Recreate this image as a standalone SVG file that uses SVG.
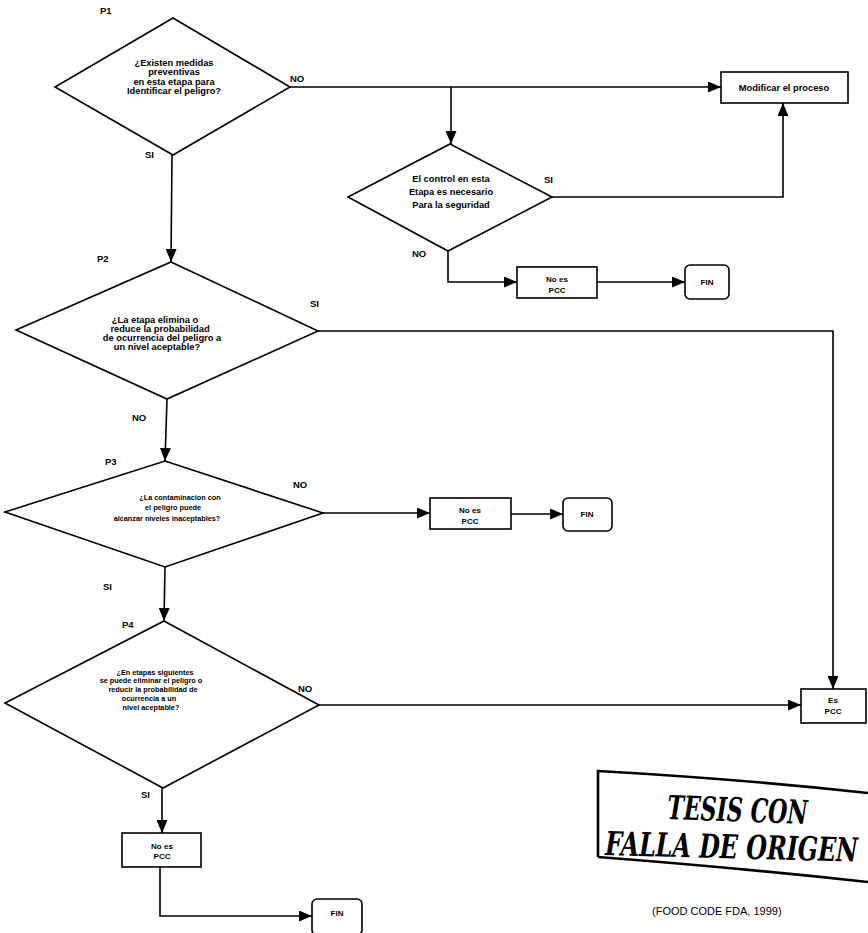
<svg xmlns="http://www.w3.org/2000/svg" width="868" height="933" viewBox="0 0 868 933">
  <defs>
    <marker id="arrow" markerUnits="userSpaceOnUse" markerWidth="13" markerHeight="11" refX="13" refY="5.5" orient="auto">
      <path d="M0,0 L13,5.5 L0,11 z" fill="#000"/>
    </marker>
    <style>
      .shape { fill: #fff; stroke: #000; stroke-width: 1.6; }
      .edge { fill: none; stroke: #000; stroke-width: 1.6; marker-end: url(#arrow); }
      text { font-family: "Liberation Sans", "DejaVu Sans", sans-serif; font-weight: bold; fill: #000; }
      .q { font-size: 9.3px; text-anchor: middle; }
      .qs { font-size: 7.3px; text-anchor: middle; }
      .box { font-size: 8px; text-anchor: middle; }
      .lbl { font-size: 9.5px; }
      .stamp { font-family: "DejaVu Serif", "Liberation Serif", serif; font-style: italic; font-weight: bold; font-size: 33px; }
      .src { font-size: 11px; font-weight: normal; }
    </style>
  </defs>

  <!-- connectors -->
  <g id="connectors">
    <path class="edge" d="M290,87 L721,87"/>
    <path class="edge" d="M451,87 L451,144"/>
    <path class="edge" d="M552,197 L783,197 L783,103"/>
    <path class="edge" d="M448,251 L448,282 L517,282"/>
    <path class="edge" d="M597,282 L685,282"/>
    <path class="edge" d="M172,155 L171,262"/>
    <path class="edge" d="M318,331 L833,331 L833,689"/>
    <path class="edge" d="M167,399 L165,461"/>
    <path class="edge" d="M323,513 L430,513"/>
    <path class="edge" d="M511,514 L563,514"/>
    <path class="edge" d="M165,567 L164,621"/>
    <path class="edge" d="M319,705 L801,705"/>
    <path class="edge" d="M162,788 L162,833"/>
    <path class="edge" d="M160,867 L160,916 L312,916"/>
  </g>

  <!-- P1 -->
  <g id="p1">
    <polygon class="shape" points="173,18 290,87 173,155 55,87"/>
    <text class="lbl" x="100" y="14">P1</text>
    <text class="q" x="174" y="66">¿Existen medidas</text>
    <text class="q" x="174" y="75">preventivas</text>
    <text class="q" x="174" y="85">en esta etapa para</text>
    <text class="q" x="174" y="94">Identificar el peligro?</text>
    <text class="lbl" x="290" y="82">NO</text>
    <text class="lbl" x="145" y="158">SI</text>
  </g>

  <!-- Modificar el proceso -->
  <g id="modificar">
    <rect class="shape" x="721" y="72" width="127" height="31"/>
    <text class="q" x="784" y="91">Modificar el proceso</text>
  </g>

  <!-- Control decision -->
  <g id="control">
    <polygon class="shape" points="450,144 552,197 448,251 348,197"/>
    <text class="q" x="451" y="182">El control en esta</text>
    <text class="q" x="451" y="195">Etapa es necesario</text>
    <text class="q" x="451" y="208">Para la seguridad</text>
    <text class="lbl" x="544" y="183">SI</text>
    <text class="lbl" x="412" y="257">NO</text>
  </g>

  <g id="nopcc1">
    <rect class="shape" x="517" y="267" width="80" height="31"/>
    <text class="box" x="557" y="282">No es</text>
    <text class="box" x="557" y="293">PCC</text>
  </g>
  <g id="fin1">
    <rect class="shape" x="685" y="265" width="44" height="34" rx="5"/>
    <text class="box" x="707" y="285">FIN</text>
  </g>

  <!-- P2 -->
  <g id="p2">
    <polygon class="shape" points="171,262 318,331 167,399 16,330"/>
    <text class="lbl" x="97" y="262">P2</text>
    <text class="q" x="155" y="323">¿La etapa elimina o</text>
    <text class="q" x="160" y="332">reduce la probabilidad</text>
    <text class="q" x="162" y="341">de ocurrencia del peligro a</text>
    <text class="q" x="157" y="350">un nivel aceptable?</text>
    <text class="lbl" x="310" y="307">SI</text>
    <text class="lbl" x="132" y="421">NO</text>
  </g>

  <!-- P3 -->
  <g id="p3">
    <polygon class="shape" points="165,461 323,513 165,567 5,512"/>
    <text class="lbl" x="105" y="465">P3</text>
    <text class="qs" x="180" y="500">¿La contaminacion con</text>
    <text class="qs" x="173" y="510">el peligro puede</text>
    <text class="qs" x="167" y="521">alcanzar niveles inaceptables?</text>
    <text class="lbl" x="293" y="488">NO</text>
    <text class="lbl" x="103" y="590">SI</text>
  </g>

  <g id="nopcc2">
    <rect class="shape" x="430" y="498" width="81" height="31"/>
    <text class="box" x="470" y="513">No es</text>
    <text class="box" x="470" y="524">PCC</text>
  </g>
  <g id="fin2">
    <rect class="shape" x="563" y="498" width="49" height="33" rx="5"/>
    <text class="box" x="587" y="517">FIN</text>
  </g>

  <!-- P4 -->
  <g id="p4">
    <polygon class="shape" points="164,621 319,705 163,788 5,703"/>
    <text class="lbl" x="122" y="628">P4</text>
    <text class="qs" x="155" y="675">¿En etapas siguientes</text>
    <text class="qs" x="151" y="683">se puede eliminar el peligro o</text>
    <text class="qs" x="153" y="692">reducir la probabilidad de</text>
    <text class="qs" x="149" y="701">ocurrencia a un</text>
    <text class="qs" x="151" y="710">nivel aceptable?</text>
    <text class="lbl" x="298" y="692">NO</text>
    <text class="lbl" x="141" y="798">SI</text>
  </g>

  <g id="espcc">
    <rect class="shape" x="801" y="689" width="65" height="34"/>
    <text class="box" x="833" y="703">Es</text>
    <text class="box" x="833" y="714">PCC</text>
  </g>

  <g id="nopcc3">
    <rect class="shape" x="122" y="833" width="79" height="34"/>
    <text class="box" x="162" y="849">No es</text>
    <text class="box" x="162" y="859">PCC</text>
  </g>
  <g id="fin3">
    <rect class="shape" x="312" y="899" width="50" height="36" rx="5"/>
    <text class="box" x="337" y="916">FIN</text>
  </g>

  <!-- stamp -->
  <g id="stamp">
    <path d="M598,857 L598,771 Q740,779 868,793" fill="none" stroke="#000" stroke-width="2.6"/>
    <path d="M598,857 Q740,868 868,882" fill="none" stroke="#000" stroke-width="2.6"/>
    <text class="stamp" transform="translate(667,819) rotate(2) scale(0.67,1)">TESIS CON</text>
    <text class="stamp" transform="translate(605,855) rotate(1.5) scale(0.72,1)">FALLA DE ORIGEN</text>
  </g>

  <text class="src" x="652" y="915">(FOOD CODE FDA, 1999)</text>
</svg>
